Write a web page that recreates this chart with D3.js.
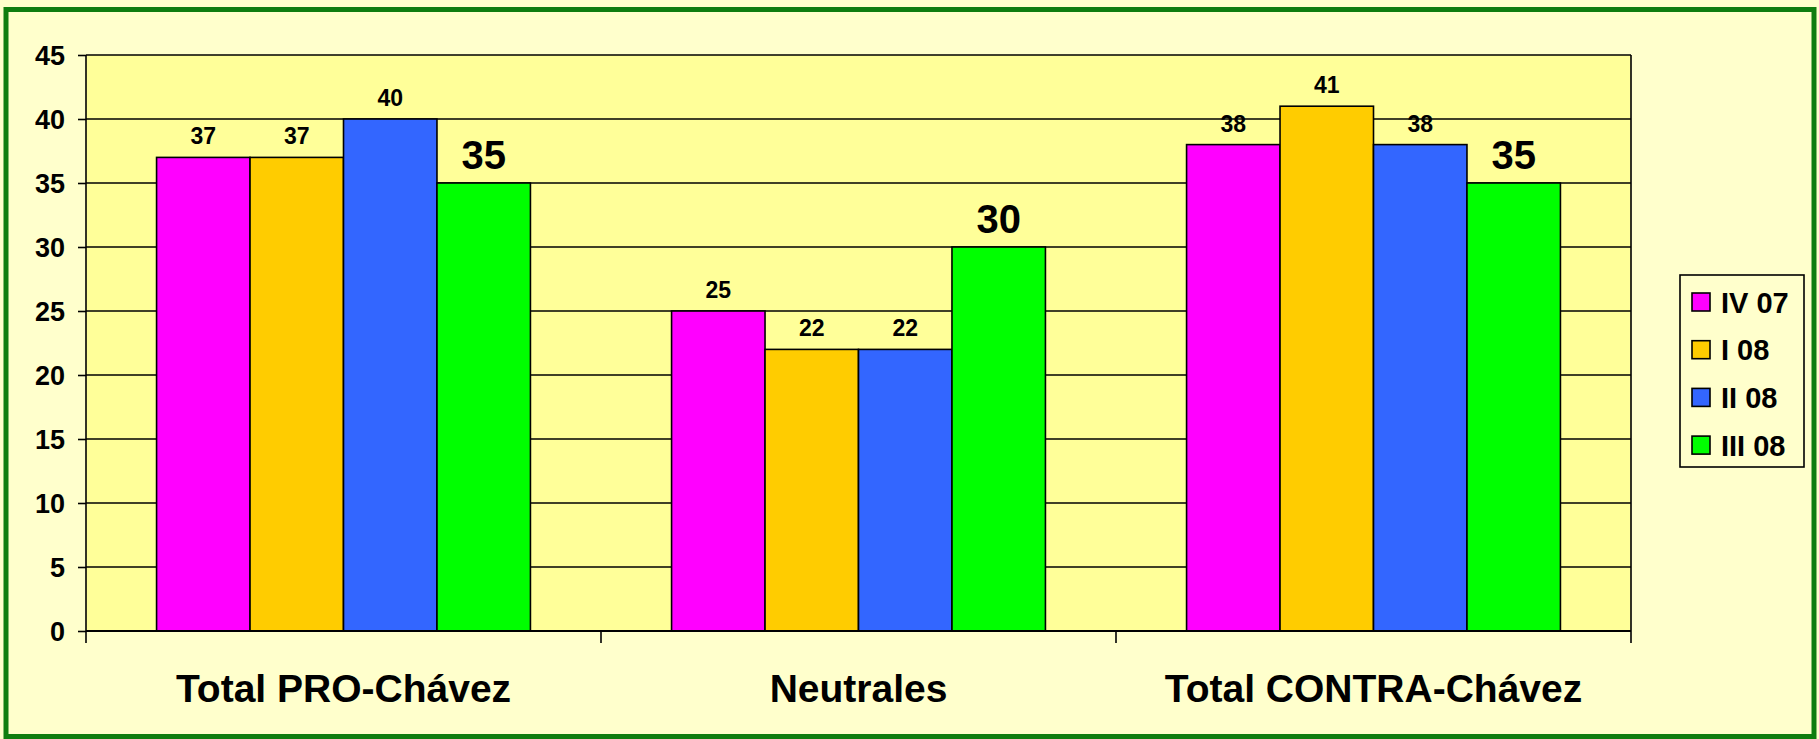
<!DOCTYPE html>
<html>
<head>
<meta charset="utf-8">
<script src="https://cdn.jsdelivr.net/npm/d3@7"></script>
<style>
  body { margin: 0; background: #FFFFCC; }
  svg { display: block; }
  text { font-family: "Liberation Sans", Arial, sans-serif; font-weight: bold; fill: #000; }
</style>
</head>
<body>
<svg width="1819" height="739"></svg>
<script>
// chart data
var categories = ["Total PRO-Chávez", "Neutrales", "Total CONTRA-Chávez"];
var seriesNames = ["IV 07", "I 08", "II 08", "III 08"];
var iv07 = [37, 25, 38];
var i08 = [37, 22, 41];
var ii08 = [40, 22, 38];
var iii08 = [35, 30, 35];
var yTicks = [0, 5, 10, 15, 20, 25, 30, 35, 40, 45];
var seriesColors = ["#FF00FF", "#FFCC00", "#3366FF", "#00FF00"];

var values = [iv07, i08, ii08, iii08];

var svg = d3.select("svg"),
    width = +svg.attr("width"),
    height = +svg.attr("height"),
    plot = {left: 86, right: 1631, top: 55, bottom: 631};

// page background + green frame
svg.append("rect")
    .attr("width", width).attr("height", height)
    .attr("fill", "#FFFFCC");
svg.append("rect")
    .attr("x", 6).attr("y", 9.5)
    .attr("width", 1808).attr("height", 727)
    .attr("fill", "none")
    .attr("stroke", "#0F7D0F")
    .attr("stroke-width", 5);

var x0 = d3.scaleBand()
    .domain(categories)
    .range([plot.left, plot.right]);

var x1 = d3.scaleBand()
    .domain(seriesNames)
    .range([0, x0.bandwidth()])
    .paddingInner(0)
    .paddingOuter(0.755);

var y = d3.scaleLinear()
    .domain([0, 45])
    .range([plot.bottom, plot.top]);

// plot area
svg.append("rect")
    .attr("x", plot.left).attr("y", plot.top)
    .attr("width", plot.right - plot.left)
    .attr("height", plot.bottom - plot.top)
    .attr("fill", "#FFFF99");

// gridlines
svg.append("g")
    .selectAll("line")
    .data(yTicks)
    .enter().append("line")
    .attr("x1", plot.left).attr("x2", plot.right)
    .attr("y1", function(d) { return y(d); })
    .attr("y2", function(d) { return y(d); })
    .attr("stroke", "#000")
    .attr("stroke-width", 1.6);

svg.append("line")
    .attr("x1", plot.right).attr("x2", plot.right)
    .attr("y1", plot.top).attr("y2", plot.bottom)
    .attr("stroke", "#000").attr("stroke-width", 1.6);

// bars
var groups = svg.append("g")
    .selectAll("g")
    .data(categories)
    .enter().append("g")
    .attr("transform", function(d) { return "translate(" + x0(d) + ",0)"; });

var bars = groups.selectAll("g.bar")
    .data(function(d, ci) {
        return seriesNames.map(function(s, si) {
            return {series: s, si: si, value: values[si][ci]};
        });
    })
    .enter().append("g")
    .attr("class", "bar");

bars.append("rect")
    .attr("x", function(d) { return x1(d.series); })
    .attr("y", function(d) { return y(d.value); })
    .attr("width", x1.bandwidth())
    .attr("height", function(d) { return y(0) - y(d.value); })
    .attr("fill", function(d) { return seriesColors[d.si]; })
    .attr("stroke", "#000")
    .attr("stroke-width", 1.6);

// value labels, last series drawn bigger
bars.append("text")
    .attr("x", function(d) { return x1(d.series) + x1.bandwidth() / 2; })
    .attr("y", function(d) { return y(d.value) - (d.si === 3 ? 14 : 13); })
    .attr("text-anchor", "middle")
    .style("font-size", function(d) { return d.si === 3 ? "40px" : "23px"; })
    .text(function(d) { return d.value; });

// y axis
var yAxis = svg.append("g")
    .attr("transform", "translate(" + plot.left + ",0)")
    .call(d3.axisLeft(y).tickValues(yTicks).tickSize(8).tickPadding(13));
yAxis.select(".domain").remove();
yAxis.selectAll(".tick line").attr("stroke", "#000").attr("stroke-width", 1.6);
yAxis.selectAll(".tick text")
    .style("font-size", "27px")
    .style("font-family", "'Liberation Sans', Arial, sans-serif")
    .attr("dy", "0.36em");

svg.append("line")
    .attr("x1", plot.left).attr("x2", plot.left)
    .attr("y1", plot.top).attr("y2", plot.bottom + 12)
    .attr("stroke", "#000").attr("stroke-width", 1.6);

// x axis: ticks at category boundaries
svg.append("line")
    .attr("x1", plot.left).attr("x2", plot.right)
    .attr("y1", plot.bottom).attr("y2", plot.bottom)
    .attr("stroke", "#000").attr("stroke-width", 1.8);

svg.append("g")
    .selectAll("line")
    .data(categories)
    .enter().append("line")
    .attr("x1", function(d) { return x0(d) + x0.bandwidth(); })
    .attr("x2", function(d) { return x0(d) + x0.bandwidth(); })
    .attr("y1", plot.bottom).attr("y2", plot.bottom + 12)
    .attr("stroke", "#000").attr("stroke-width", 1.6);

svg.append("g")
    .selectAll("text")
    .data(categories)
    .enter().append("text")
    .attr("x", function(d) { return x0(d) + x0.bandwidth() / 2; })
    .attr("y", 702)
    .attr("text-anchor", "middle")
    .style("font-size", "39px")
    .text(function(d) { return d; });

// legend
var legend = svg.append("g").attr("transform", "translate(1680,275)");
legend.append("rect")
    .attr("width", 124).attr("height", 192)
    .attr("fill", "#FFFFCC")
    .attr("stroke", "#000").attr("stroke-width", 1.6);

var item = legend.selectAll("g")
    .data(seriesNames)
    .enter().append("g")
    .attr("transform", function(d, i) { return "translate(0," + (27 + i * 47.7) + ")"; });

item.append("rect")
    .attr("x", 12).attr("y", -9)
    .attr("width", 18).attr("height", 18)
    .attr("fill", function(d, i) { return seriesColors[i]; })
    .attr("stroke", "#000").attr("stroke-width", 1.6);

item.append("text")
    .attr("x", 41).attr("y", 10.5)
    .style("font-size", "29px")
    .text(function(d) { return d; });
</script>
</body>
</html>
